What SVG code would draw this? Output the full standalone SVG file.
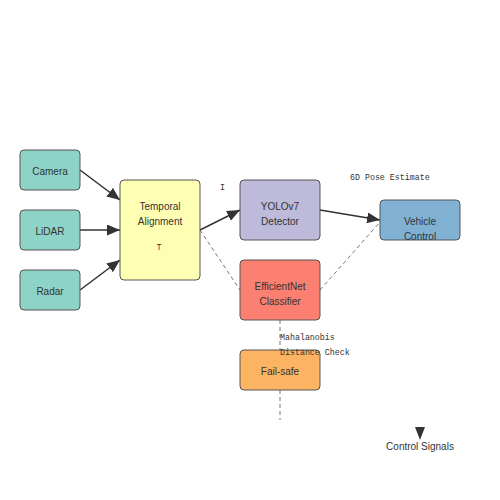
<svg xmlns="http://www.w3.org/2000/svg" width="500" height="500" viewBox="0 0 500 500">
<style>
.n rect{stroke:#555;stroke-width:1;}
.t{font-family:"Liberation Sans",Arial,sans-serif;font-size:10px;fill:#333;text-anchor:middle;}
.m{font-family:"Liberation Mono","DejaVu Sans Mono",monospace;font-size:8.3px;fill:#333;}
.a{stroke:#333;stroke-width:1.5;fill:none;marker-end:url(#ah);}
.d{stroke:#777;stroke-width:1;stroke-dasharray:4,3;fill:none;}
</style>
<defs>
<marker id="ah" viewBox="0 0 10 10" refX="10" refY="5" markerWidth="13" markerHeight="11" markerUnits="userSpaceOnUse" orient="auto" preserveAspectRatio="none">
<path d="M0,0 L10,5 L0,10 z" fill="#333"/>
</marker>
</defs>
<rect width="500" height="500" fill="#fff"/>
<g id="connectors">
<line class="d" x1="200" y1="230" x2="240" y2="290"/>
<line class="d" x1="320" y1="290" x2="380" y2="222"/>
<line class="d" x1="280" y1="320" x2="280" y2="420"/>
<line class="a" x1="80" y1="170" x2="120" y2="200"/>
<line class="a" x1="80" y1="230" x2="120" y2="230"/>
<line class="a" x1="80" y1="290" x2="120" y2="260"/>
<line class="a" x1="200" y1="230" x2="240" y2="210"/>
<line class="a" x1="320" y1="210" x2="380" y2="220"/>
</g>
<g id="camera" class="n"><rect x="20" y="150" width="60" height="40" rx="4" fill="#8dd3c7"/><text class="t" x="50" y="174.5">Camera</text></g>
<g id="lidar" class="n"><rect x="20" y="210" width="60" height="40" rx="4" fill="#8dd3c7"/><text class="t" x="50" y="234.5">LiDAR</text></g>
<g id="radar" class="n"><rect x="20" y="270" width="60" height="40" rx="4" fill="#8dd3c7"/><text class="t" x="50" y="294.5">Radar</text></g>
<g id="temporal" class="n"><rect x="120" y="180" width="80" height="100" rx="4" fill="#ffffb3"/><text class="t" x="160" y="209.5">Temporal</text><text class="t" x="160" y="224.5">Alignment</text><text class="m" x="159" y="250" text-anchor="middle">T</text></g>
<g id="yolo" class="n"><rect x="240" y="180" width="80" height="60" rx="4" fill="#bebada"/><text class="t" x="280" y="209.5">YOLOv7</text><text class="t" x="280" y="224.5">Detector</text></g>
<g id="efficientnet" class="n"><rect x="240" y="260" width="80" height="60" rx="4" fill="#fb8072"/><text class="t" x="280" y="289.5">EfficientNet</text><text class="t" x="280" y="304.5">Classifier</text></g>
<g id="vehicle" class="n"><rect x="380" y="200" width="80" height="40" rx="4" fill="#80b1d3"/><text class="t" x="420" y="224.5">Vehicle</text><text class="t" x="420" y="239.5">Control</text></g>
<g id="failsafe" class="n"><rect x="240" y="350" width="80" height="40" rx="4" fill="#fdb462"/><text class="t" x="280" y="374.5">Fail-safe</text></g>
<g id="labels">
<text class="m" x="220" y="190">I</text>
<text class="m" x="350" y="180">6D Pose Estimate</text>
<text class="m" x="280" y="340">Mahalanobis</text>
<text class="m" x="280" y="355">Distance Check</text>
<path d="M415,427 L425,427 L420,440 z" fill="#333"/>
<text class="t" x="420" y="450">Control Signals</text>
</g>
</svg>
